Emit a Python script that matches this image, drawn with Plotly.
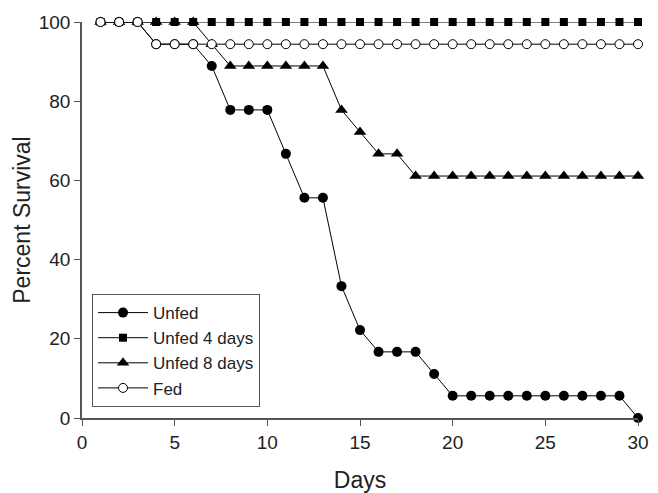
import plotly.graph_objects as go

days = list(range(1, 31))
unfed = [100, 100, 100, 94.4, 94.4, 94.4, 88.9, 77.8, 77.8, 77.8, 66.7, 55.6, 55.6, 33.3, 22.2,
         16.7, 16.7, 16.7, 11.1, 5.6, 5.6, 5.6, 5.6, 5.6, 5.6, 5.6, 5.6, 5.6, 5.6, 0]
unfed4 = [100] * 30
unfed8 = [100, 100, 100, 100, 100, 100, 94.4, 88.9, 88.9, 88.9, 88.9, 88.9, 88.9, 77.8, 72.2,
          66.7, 66.7] + [61.1] * 13
fed = [100, 100, 100] + [94.4] * 27

series = [
    ("Unfed", unfed, dict(symbol="circle", size=10, color="black")),
    ("Unfed 4 days", unfed4, dict(symbol="square", size=8, color="black")),
    ("Unfed 8 days", unfed8, dict(symbol="triangle-up", size=11, color="black")),
    ("Fed", fed, dict(symbol="circle", size=9, color="white", line=dict(color="black", width=1))),
]

fig = go.Figure()
for name, vals, mk in series:
    fig.add_trace(go.Scatter(x=days, y=vals, name=name, mode="lines+markers",
                             line=dict(color="black", width=1), marker=mk, cliponaxis=False))

axis_font = dict(family="Liberation Sans, Arial, sans-serif", size=19, color="#222")
fig.update_layout(
    width=650, height=485,
    margin=dict(l=74, r=20, t=14, b=75),
    plot_bgcolor="white", paper_bgcolor="white",
    font=dict(family="Liberation Sans, Arial, sans-serif", color="#222"),
    showlegend=True,
    legend=dict(x=0.018, y=0.313, xanchor="left", yanchor="top",
                bordercolor="#555", borderwidth=1, bgcolor="white", itemwidth=50,
                font=dict(size=17, color="#222"), tracegroupgap=0),
    xaxis=dict(range=[0, 30], tickvals=[0, 5, 10, 15, 20, 25, 30], showgrid=False, zeroline=False,
               showline=True, linecolor="#555", linewidth=1.5, ticks="outside", ticklen=6,
               tickcolor="#555", tickfont=axis_font, automargin=False,
               title=dict(text="Days", font=dict(size=23, color="#222"), standoff=20)),
    yaxis=dict(range=[0, 100], tickvals=[0, 20, 40, 60, 80, 100], showgrid=False, zeroline=False,
               showline=True, linecolor="#555", linewidth=1.5, ticks="outside", ticklen=6,
               tickcolor="#555", tickfont=axis_font, automargin=False,
               title=dict(text="Percent Survival", font=dict(size=23, color="#222"), standoff=2)),
)
fig.write_html("out.html")
